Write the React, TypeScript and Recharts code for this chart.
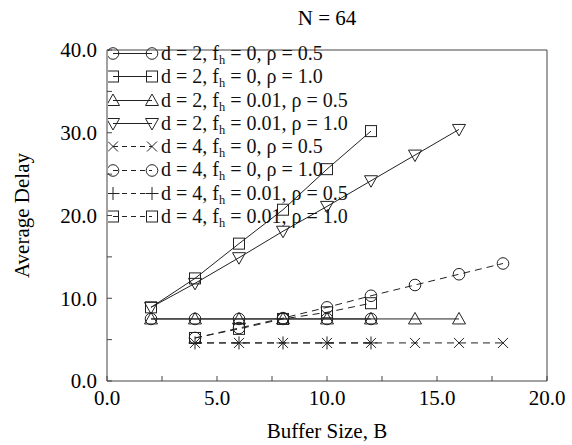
import React from 'react';
import { LineChart, Line, XAxis, YAxis, Legend, Label } from 'recharts';

// Axis ticks (minor ticks every 2.5 / 5, labels only on the major ones)
const xTicks = [0, 2.5, 5, 7.5, 10, 12.5, 15, 17.5, 20];
const yTicks = [0, 5, 10, 15, 20, 25, 30, 35, 40];

// Buffer sizes simulated for each switch degree
const bufD2 = [2, 4, 6, 8, 10, 12, 14, 16];
const bufD4 = [4, 6, 8, 10, 12, 14, 16, 18];

// Average delay per configuration
const d2F0R05 = [7.5, 7.5, 7.5, 7.5, 7.5, 7.5];
const d2F0R10 = [8.9, 12.4, 16.6, 20.7, 25.6, 30.2];
const d2F01R05 = [7.5, 7.5, 7.5, 7.5, 7.5, 7.5, 7.5, 7.5];
const d2F01R10 = [8.9, 11.8, 14.9, 18.1, 21.1, 24.2, 27.3, 30.4];
const d4F0R05 = [4.6, 4.6, 4.6, 4.6, 4.6, 4.6, 4.6, 4.6];
const d4F0R10 = [5.2, 6.4, 7.6, 8.9, 10.3, 11.6, 12.9, 14.2];
const d4F01R05 = [4.6, 4.6, 4.6, 4.6, 4.6];
const d4F01R10 = [5.2, 6.3, 7.5, 8.3, 9.4];

type MarkerKind = 'circle' | 'square' | 'triUp' | 'triDown' | 'cross' | 'plus';

const INK = '#222';
const FONT = '"Liberation Serif", "DejaVu Serif", serif';

const series = [
  { id: 'a', d: '2', fh: '0', rho: '0.5', buf: bufD2, vals: d2F0R05, marker: 'circle' as MarkerKind, dashed: false },
  { id: 'b', d: '2', fh: '0', rho: '1.0', buf: bufD2, vals: d2F0R10, marker: 'square' as MarkerKind, dashed: false },
  { id: 'c', d: '2', fh: '0.01', rho: '0.5', buf: bufD2, vals: d2F01R05, marker: 'triUp' as MarkerKind, dashed: false },
  { id: 'e', d: '2', fh: '0.01', rho: '1.0', buf: bufD2, vals: d2F01R10, marker: 'triDown' as MarkerKind, dashed: false },
  { id: 'f', d: '4', fh: '0', rho: '0.5', buf: bufD4, vals: d4F0R05, marker: 'cross' as MarkerKind, dashed: true },
  { id: 'g', d: '4', fh: '0', rho: '1.0', buf: bufD4, vals: d4F0R10, marker: 'circle' as MarkerKind, dashed: true },
  { id: 'h', d: '4', fh: '0.01', rho: '0.5', buf: bufD4, vals: d4F01R05, marker: 'plus' as MarkerKind, dashed: true },
  { id: 'i', d: '4', fh: '0.01', rho: '1.0', buf: bufD4, vals: d4F01R10, marker: 'square' as MarkerKind, dashed: true },
];

function drawMarker(kind: MarkerKind, cx: number, cy: number, key?: any) {
  const common = { fill: 'none', stroke: INK, strokeWidth: 1 };
  switch (kind) {
    case 'circle':
      return <circle key={key} cx={cx} cy={cy} r={5.8} {...common} />;
    case 'square':
      return <rect key={key} x={cx - 5.5} y={cy - 5.5} width={11} height={11} {...common} />;
    case 'triUp':
      return <polygon key={key} points={`${cx},${cy - 6.5} ${cx - 6.5},${cy + 5} ${cx + 6.5},${cy + 5}`} {...common} />;
    case 'triDown':
      return <polygon key={key} points={`${cx},${cy + 6.5} ${cx - 6.5},${cy - 5} ${cx + 6.5},${cy - 5}`} {...common} />;
    case 'cross':
      return (
        <g key={key} {...common}>
          <line x1={cx - 5} y1={cy - 5} x2={cx + 5} y2={cy + 5} />
          <line x1={cx - 5} y1={cy + 5} x2={cx + 5} y2={cy - 5} />
        </g>
      );
    case 'plus':
    default:
      return (
        <g key={key} {...common}>
          <line x1={cx - 6.5} y1={cy} x2={cx + 6.5} y2={cy} />
          <line x1={cx} y1={cy - 6.5} x2={cx} y2={cy + 6.5} />
        </g>
      );
  }
}

const dotFor = (kind: MarkerKind) => (props: any) => {
  const { cx, cy, index } = props;
  if (cx == null || cy == null) return <g key={index} />;
  return drawMarker(kind, cx, cy, index);
};

const renderLegend = () => (
  <div style={{ fontFamily: FONT, fontSize: 20, color: '#111' }}>
    {series.map((s) => (
      <div key={s.id} style={{ display: 'flex', alignItems: 'center', height: 23.3, lineHeight: '23.3px', whiteSpace: 'nowrap' }}>
        <svg width={53} height={23} style={{ flex: 'none' }}>
          <line x1={5} y1={11.5} x2={44} y2={11.5} stroke={INK} strokeWidth={1} strokeDasharray={s.dashed ? '5 4' : undefined} />
          {drawMarker(s.marker, 5, 11.5, 'l')}
          {drawMarker(s.marker, 44, 11.5, 'r')}
        </svg>
        <span>
          d = {s.d}, f<sub style={{ fontSize: '0.62em', verticalAlign: '-0.3em', lineHeight: 0 }}>h</sub> = {s.fh}, ρ = {s.rho}
        </span>
      </div>
    ))}
  </div>
);

const fmt = (step: number) => (v: number) => (Math.abs(v % step) < 1e-9 ? v.toFixed(1) : '');
const blank = () => '';

const tickStyle = { fill: '#000', fontSize: 21, fontFamily: FONT };

export default function App() {
  return (
    <div style={{ position: 'absolute', left: 0, top: 0, width: 572, height: 445, background: '#fff' }}>
      <LineChart
        width={572}
        height={445}
        margin={{ top: 45, right: 20, bottom: 34, left: 47 }}
        style={{ fontFamily: FONT }}
      >
        <XAxis
          xAxisId="b"
          dataKey="x"
          type="number"
          domain={[0, 20]}
          ticks={xTicks}
          interval={0}
          tickFormatter={fmt(5)}
          height={30}
          tickSize={-5}
          tickMargin={14}
          tick={tickStyle}
          stroke="#444"
          allowDuplicatedCategory={false}
        >
          <Label value="Buffer Size, B" position="bottom" offset={12} style={{ fill: '#000', fontSize: 21, fontFamily: FONT }} />
        </XAxis>
        <XAxis
          xAxisId="t"
          orientation="top"
          type="number"
          domain={[0, 20]}
          ticks={xTicks}
          interval={0}
          tickFormatter={blank}
          height={5}
          tickSize={-5}
          tickMargin={0}
          stroke="#444"
        >
          <Label value="N = 64" position="top" offset={20} style={{ fill: '#000', fontSize: 21, fontFamily: FONT }} />
        </XAxis>
        <YAxis
          yAxisId="l"
          type="number"
          domain={[0, 40]}
          ticks={yTicks}
          interval={0}
          tickFormatter={fmt(10)}
          width={60}
          tickSize={-5}
          tickMargin={15}
          tick={tickStyle}
          stroke="#444"
        >
          <Label
            value="Average Delay"
            angle={-90}
            position="left"
            offset={25}
            style={{ fill: '#000', fontSize: 21, fontFamily: FONT, textAnchor: 'middle' }}
          />
        </YAxis>
        <YAxis
          yAxisId="r"
          orientation="right"
          type="number"
          domain={[0, 40]}
          ticks={yTicks}
          interval={0}
          tickFormatter={blank}
          width={5}
          tickSize={-5}
          tickMargin={0}
          stroke="#444"
        />
        <Legend
          content={renderLegend}
          layout="horizontal"
          verticalAlign="middle"
          align="center"
          wrapperStyle={{ left: 108, top: 42, width: 320 }}
        />
        {series.map((s) => (
          <Line
            key={s.id}
            xAxisId="b"
            yAxisId="l"
            name={s.id}
            data={s.vals.map((v, i) => ({ x: s.buf[i], y: v }))}
            dataKey="y"
            stroke={INK}
            strokeWidth={1}
            strokeDasharray={s.dashed ? '7 5' : undefined}
            dot={dotFor(s.marker)}
            activeDot={false}
            isAnimationActive={false}
            legendType="none"
          />
        ))}
      </LineChart>
    </div>
  );
}
